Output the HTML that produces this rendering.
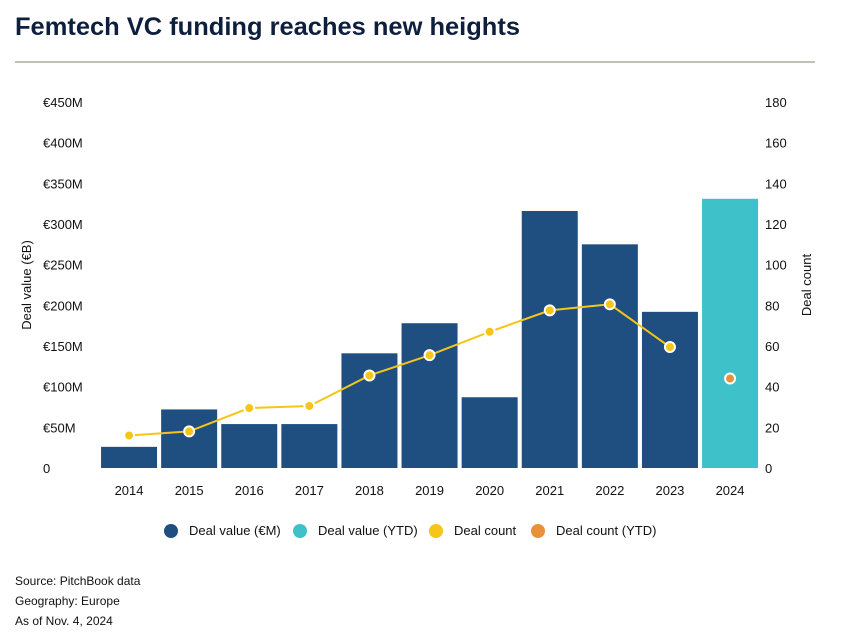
<!DOCTYPE html>
<html><head><meta charset="utf-8"><style>
body{margin:0;background:#fff;width:861px;height:634px;overflow:hidden;font-family:"Liberation Sans",sans-serif;}
svg text{font-family:"Liberation Sans",sans-serif;}
</style></head><body>
<svg id="c" width="861" height="634">
<text x="15" y="35" font-size="25" font-weight="bold" fill="#0d1f3c" textLength="505" lengthAdjust="spacingAndGlyphs">Femtech VC funding reaches new heights</text>
<line x1="15" y1="62" x2="815" y2="62" stroke="#c2bfb3" stroke-width="2"/>
<text transform="translate(31,285) rotate(-90)" text-anchor="middle" font-size="13" fill="#111">Deal value (€B)</text>
<text transform="translate(811,285) rotate(-90)" text-anchor="middle" font-size="13" fill="#111">Deal count</text>
<g id="yl"></g><g id="yr"></g><g id="bars"></g><g id="xl"></g><g id="ln"></g>
<g font-size="13" fill="#111">
<circle cx="171" cy="531" r="7" fill="#1f4e80"/><text x="189" y="535">Deal value (€M)</text>
<circle cx="300" cy="531" r="7" fill="#3fc1c9"/><text x="318" y="535">Deal value (YTD)</text>
<circle cx="436" cy="531" r="7" fill="#f5c518"/><text x="454" y="535">Deal count</text>
<circle cx="538" cy="531" r="7" fill="#e8913a"/><text x="556" y="535">Deal count (YTD)</text>
</g>
<g font-size="12" fill="#111">
<text x="15" y="585">Source: PitchBook data</text>
<text x="15" y="605">Geography: Europe</text>
<text x="15" y="625">As of Nov. 4, 2024</text>
</g>
</svg>
<script>
const years=["2014","2015","2016","2017","2018","2019","2020","2021","2022","2023","2024"];
const dealValue=[26,72,54,54,141,178,87,316,275,192,331];
const dealCount=[16,18,29.5,30.5,45.5,55.5,67,77.5,80.5,59.5,44];
const leftTicks=[0,50,100,150,200,250,300,350,400,450];
const rightTicks=[0,20,40,60,80,100,120,140,160,180];
const NS="http://www.w3.org/2000/svg";
const y0=468,y1=102,x0=99,step=60.1,bw=56;
const yL=v=>y0-(v/450)*(y0-y1);
const yR=v=>y0-(v/180)*(y0-y1);
const xC=i=>x0+step*i+step/2;
function mk(t,a,p){const e=document.createElementNS(NS,t);for(const k in a)e.setAttribute(k,a[k]);document.getElementById(p).appendChild(e);return e;}
leftTicks.forEach(v=>{const t=mk("text",{x:43,y:yL(v)+5,"font-size":13,fill:"#111"},"yl");t.textContent=v===0?"0":"€"+v+"M";

});
rightTicks.forEach(v=>{const t=mk("text",{x:765,y:yR(v)+5,"font-size":13,fill:"#111"},"yr");t.textContent=v;

});
years.forEach((y,i)=>{const last=i===years.length-1;
const r=mk("rect",{x:xC(i)-bw/2,y:yL(dealValue[i]),width:bw,height:y0-yL(dealValue[i]),fill:last?"#3fc1c9":"#1f4e80"},"bars");


const t=mk("text",{x:xC(i),y:495,"text-anchor":"middle","font-size":13,fill:"#111"},"xl");t.textContent=y;

});
const pts=dealCount.slice(0,10).map((v,i)=>xC(i)+","+yR(v)).join(" ");
const pl=mk("polyline",{points:pts,fill:"none",stroke:"#f5c518","stroke-width":2},"ln");


dealCount.forEach((v,i)=>{const last=i===dealCount.length-1;
const c=mk("circle",{cx:xC(i),cy:yR(v),r:5,fill:last?"#e8913a":"#f5c518",stroke:"#fff","stroke-width":2},"ln");

});
</script>
</body></html>
